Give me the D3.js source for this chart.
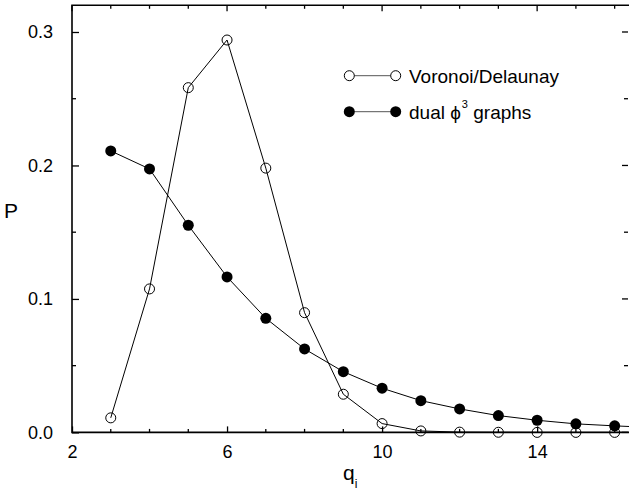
<!DOCTYPE html>
<html>
<head>
<meta charset="utf-8">
<script src="https://cdn.jsdelivr.net/npm/d3@7"></script>
<style>
  body { margin: 0; background: #fff; }
  svg { display: block; font-family: Arial, "Liberation Sans", sans-serif; }
</style>
</head>
<body>
<svg width="629" height="494"></svg>
<script>
const q = [3, 4, 5, 6, 7, 8, 9, 10, 11, 12, 13, 14, 15, 16, 17];
const voronoi = [0.0109, 0.1075, 0.2583, 0.294, 0.198, 0.0897, 0.0286, 0.0066, 0.0011, 0.0002, 0.0001, 0, 0, 0, 0];
const dual = [0.2109, 0.1974, 0.1552, 0.1165, 0.0855, 0.0625, 0.0455, 0.0331, 0.0238, 0.0176, 0.0126, 0.0091, 0.0064, 0.0049, 0.0036];
const xMajor = [2, 6, 10, 14];
const yMajor = [0, 0.1, 0.2, 0.3];
const seriesNames = ["Voronoi/Delaunay", "dual \u03d5"];

const svg = d3.select("svg");
const plotLeft = 72, plotRight = 629, plotTop = 5.3, plotBottom = 432.4;

const x = d3.scaleLinear().domain([2, 16.37]).range([plotLeft, plotRight]);
const y = d3.scaleLinear().domain([0, 0.32]).range([plotBottom, plotTop]);

const line = d3.line()
  .x((d, i) => x(q[i]))
  .y(d => y(d));

// data lines
svg.append("path")
  .datum(voronoi)
  .attr("d", line)
  .attr("fill", "none")
  .attr("stroke", "#000")
  .attr("stroke-width", 1);

svg.append("path")
  .datum(dual)
  .attr("d", line)
  .attr("fill", "none")
  .attr("stroke", "#000")
  .attr("stroke-width", 1);

svg.append("g")
  .selectAll("circle")
  .data(dual)
  .enter()
  .append("circle")
  .attr("cx", (d, i) => x(q[i]))
  .attr("cy", d => y(d))
  .attr("r", 5.5)
  .attr("fill", "#000");

svg.append("g")
  .selectAll("circle")
  .data(voronoi)
  .enter()
  .append("circle")
  .attr("cx", (d, i) => x(q[i]))
  .attr("cy", d => y(d))
  .attr("r", 5)
  .attr("fill", "none")
  .attr("stroke", "#000")
  .attr("stroke-width", 1);

// frame and ticks
const xMinor = d3.range(3, 17).filter(d => !xMajor.includes(d));
const yMinor = [0.05, 0.15, 0.25];

const axisBottom = d3.axisBottom(x).tickValues(xMajor).tickSizeInner(-6).tickSizeOuter(0).tickPadding(13).tickFormat(d3.format("d"));
const axisLeft = d3.axisLeft(y).tickValues(yMajor).tickSizeInner(-7).tickSizeOuter(0).tickPadding(19).tickFormat(d3.format(".1f"));

const gx = svg.append("g").attr("transform", `translate(0,${plotBottom})`).call(axisBottom);
const gy = svg.append("g").attr("transform", `translate(${plotLeft},0)`).call(axisLeft);

[gx, gy].forEach(g => {
  g.select(".domain").remove();
  g.selectAll("line").attr("stroke", "#000").attr("stroke-width", 1.3);
  g.selectAll("text").attr("font-size", 18).attr("fill", "#000");
});

// minor ticks
svg.append("g").selectAll("line").data(xMinor).enter().append("line")
  .attr("x1", d => x(d)).attr("x2", d => x(d))
  .attr("y1", plotBottom).attr("y2", plotBottom - 3.5)
  .attr("stroke", "#000").attr("stroke-width", 1.3);
svg.append("g").selectAll("line").data(xMinor).enter().append("line")
  .attr("x1", d => x(d)).attr("x2", d => x(d))
  .attr("y1", plotTop).attr("y2", plotTop + 3.5)
  .attr("stroke", "#000").attr("stroke-width", 1.3);
svg.append("g").selectAll("line").data(xMajor).enter().append("line")
  .attr("x1", d => x(d)).attr("x2", d => x(d))
  .attr("y1", plotTop).attr("y2", plotTop + 6)
  .attr("stroke", "#000").attr("stroke-width", 1.3);
svg.append("g").selectAll("line").data(yMinor).enter().append("line")
  .attr("x1", plotLeft).attr("x2", plotLeft + 4)
  .attr("y1", d => y(d)).attr("y2", d => y(d))
  .attr("stroke", "#000").attr("stroke-width", 1.3);
svg.append("g").selectAll("line").data(yMajor.concat(yMinor)).enter().append("line")
  .attr("x1", plotRight - 1).attr("x2", d => plotRight - 1 - (yMajor.includes(d) ? 6 : 4))
  .attr("y1", d => y(d)).attr("y2", d => y(d))
  .attr("stroke", "#000").attr("stroke-width", 1.3);

svg.append("path")
  .attr("d", `M${plotRight + 1},${plotTop}H${plotLeft}V${plotBottom}H${plotRight + 1}`)
  .attr("fill", "none")
  .attr("stroke", "#000")
  .attr("stroke-width", 1.6);

// axis titles
svg.append("text")
  .attr("x", 4).attr("y", 218)
  .attr("font-size", 21)
  .text("P");

const xt = svg.append("text")
  .attr("x", 343).attr("y", 480)
  .attr("font-size", 21);
xt.append("tspan").text("q");
xt.append("tspan").attr("font-size", 12).attr("dy", 8).text("i");

// legend
const legendY = [75.7, 111.7];
const lx1 = 349.3, lx2 = 395.7;
const legend = svg.append("g")
  .selectAll("g")
  .data(seriesNames)
  .enter()
  .append("g")
  .attr("transform", (d, i) => `translate(0,${legendY[i]})`);

legend.append("line")
  .attr("x1", lx1).attr("x2", lx2)
  .attr("stroke", "#555").attr("stroke-width", 1);

legend.each(function(d, i) {
  d3.select(this).selectAll("circle")
    .data([lx1, lx2])
    .enter()
    .append("circle")
    .attr("cx", c => c)
    .attr("r", i === 0 ? 5 : 5.5)
    .attr("fill", i === 0 ? "#fff" : "#000")
    .attr("stroke", i === 0 ? "#000" : "none")
    .attr("stroke-width", 1);
});

const lt = legend.append("text")
  .attr("x", 409)
  .attr("y", 7.5)
  .attr("font-size", 19)
  .text(d => d);

lt.filter((d, i) => i === 1)
  .append("tspan").attr("font-size", 11).attr("dy", -11).attr("dx", 1).text("3");
lt.filter((d, i) => i === 1)
  .append("tspan").attr("dy", 11).text(" graphs");
</script>
</body>
</html>
